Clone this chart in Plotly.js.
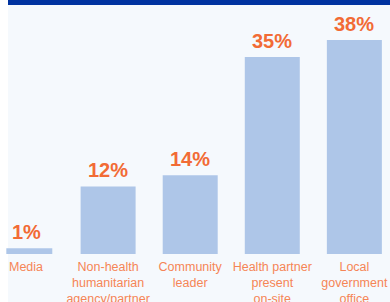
<!DOCTYPE html>
<html><head><meta charset="utf-8">
<script src="https://cdn.plot.ly/plotly-3.0.1.min.js"></script>
<style>html,body{margin:0;padding:0;background:#fff}#chart{width:390px;height:302px}</style>
</head><body><div id="chart"></div>
<script>
const categories = ["Media", "Non-health<br>humanitarian<br>agency/partner", "Community<br>leader", "Health partner<br>present<br>on-site", "Local<br>government<br>office"];
const values = [1, 12, 14, 35, 38];
const valueLabels = ["1%", "12%", "14%", "35%", "38%"];

const font = "'Liberation Sans Narrow', 'Arial Narrow', 'Liberation Sans', Arial, sans-serif";
const xs = categories.map((c, i) => i);
const trace = {
  type: 'bar',
  x: xs,
  y: values,
  width: [0.56, 0.67, 0.67, 0.67, 0.67],
  offset: [-0.24, -0.335, -0.335, -0.335, -0.335],
  marker: {color: '#aec6e8'},
  hoverinfo: 'none'
};
const annotations = values.map((v, i) => ({
  x: xs[i], y: v, xref: 'x', yref: 'y',
  text: valueLabels[i], showarrow: false,
  xanchor: 'center', yanchor: 'bottom', yshift: 3,
  font: {family: font, size: 20, color: '#f26b35', weight: 'bold'}
}));
const layout = {
  width: 390, height: 302,
  margin: {l: 0, r: 0, t: 0, b: 48, pad: 0},
  paper_bgcolor: '#f5f9fd',
  plot_bgcolor: 'rgba(0,0,0,0)',
  showlegend: false,
  annotations: annotations,
  xaxis: {
    range: [-0.317, 4.434],
    tickmode: 'array', tickvals: xs, ticktext: categories,
    tickangle: 0,
    ticklabelstandoff: 3,
    tickfont: {family: font, size: 12.5, color: '#f58556'},
    showgrid: false, zeroline: false, showline: false, ticks: '', fixedrange: true
  },
  yaxis: {range: [0, 45.1], visible: false, fixedrange: true},
  shapes: [
    {type: 'rect', xref: 'paper', yref: 'paper', x0: 0, x1: 8/390, y0: -48/254, y1: 1, fillcolor: '#ffffff', line: {width: 0}, layer: 'below'},
    {type: 'rect', xref: 'paper', yref: 'paper', x0: 8/390, x1: 1, y0: (254-5)/254, y1: 1, fillcolor: '#0033a0', line: {width: 0}, layer: 'above'}
  ]
};
Plotly.newPlot('chart', [trace], layout, {displayModeBar: false, staticPlot: true});
</script></body></html>
